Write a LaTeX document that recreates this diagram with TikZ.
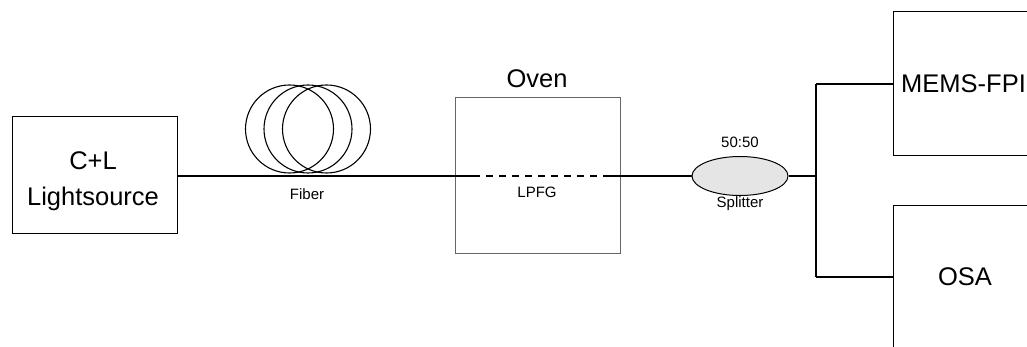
\documentclass[tikz,border=0pt]{standalone}
\usepackage{fontspec}
\setmainfont{Liberation Sans}
\usetikzlibrary{shapes.geometric}
\begin{document}
\begin{tikzpicture}[x=1pt,y=-1pt,
  fiber/.style={draw=black,line width=1.2pt},
  devbox/.style={draw=black,line width=1pt},
  bigtxt/.style={font=\fontsize{25.5}{36}\selectfont,align=center,inner sep=0pt},
  smalltxt/.style={font=\fontsize{15}{17}\selectfont,inner sep=0pt},
  coil/.style={draw=black,line width=1.1pt}
]
\useasboundingbox (0,0) rectangle (1027,347);

% light source
\draw[devbox] (12,117) rectangle (177,234);
\node[bigtxt] (src) at (93,181) {C+L\\Lightsource};
\coordinate (srcR) at (177,176);

% fibre coil
\draw[coil] (289.5,129) circle (44);
\draw[coil] (308,129) circle (44);
\draw[coil] (326.5,129) circle (44);
\node[smalltxt] (fib) at (307,194) {Fiber};

% oven with the grating inside
\draw[draw=black!60,line width=1pt] (455,98) rectangle (620,253);
\node[bigtxt] (oven) at (537,79) {Oven};
\coordinate (gA) at (473,176);
\coordinate (gB) at (603,176);
\node[smalltxt] (lpfg) at (537,192) {LPFG};

% splitter
\node[ellipse,draw=black,line width=1pt,fill=black!10,
      minimum width=96pt,minimum height=39pt,inner sep=0pt] (spl) at (740,176) {};
\node[smalltxt] (ratio) at (740,142) {50:50};
\node[smalltxt] (spltxt) at (740,204) {Splitter};

% receivers
\draw[devbox] (1040,12) -- (893,12) -- (893,156) -- (1040,156);
\draw[devbox] (1040,206) -- (893,206) -- (893,360);
\node[bigtxt,anchor=west] (mems) at (901,84) {MEMS-FPI};
\node[bigtxt] (osa) at (965,277) {OSA};
\coordinate (memsL) at (893,84);
\coordinate (osaL) at (893,277);
\coordinate (jn) at (816,176);

% fibre path
\draw[fiber] (srcR) -- (gA);
\draw[fiber,dash pattern=on 7pt off 6pt,line width=2pt] (gA) -- (gB);
\draw[fiber] (gB) -- (spl.west);
\draw[fiber] (spl.east) -- (jn);
\draw[fiber] (jn |- memsL) -- (memsL);
\draw[fiber] (jn |- osaL) -- (osaL);
\draw[fiber] (jn |- memsL) -- (jn |- osaL);
\end{tikzpicture}
\end{document}
